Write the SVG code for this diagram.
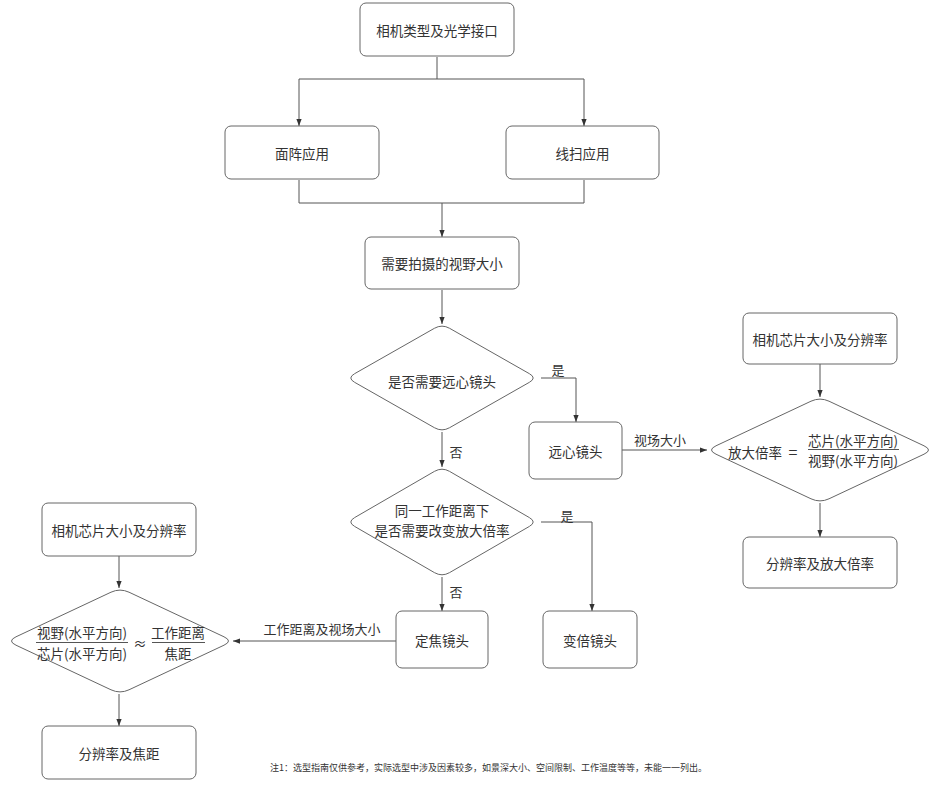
<svg xmlns="http://www.w3.org/2000/svg" width="938" height="788" viewBox="0 0 938 788">
<defs>
<style>
.box{fill:#fff;stroke:#666;stroke-width:1}
.dia{fill:#fff;stroke:#666;stroke-width:1}
.t{font-family:"Noto Sans CJK SC","Noto Sans",sans-serif;font-size:13.5px;fill:#333;text-anchor:middle;dominant-baseline:central}
.lbl{font-family:"Noto Sans CJK SC","Noto Sans",sans-serif;font-size:13px;fill:#333;text-anchor:middle;dominant-baseline:central}
.note{font-family:"Noto Sans CJK SC","Noto Sans",sans-serif;font-size:9px;fill:#333;dominant-baseline:central}
.c{fill:none;stroke:#555;stroke-width:1}
.fl{stroke:#555;stroke-width:1}
</style>
<marker id="arr" viewBox="0 0 8 8" refX="8" refY="4" markerWidth="7" markerHeight="7" markerUnits="userSpaceOnUse" orient="auto">
<path d="M0,1 L8,4 L0,7 Z" fill="#333"/>
</marker>
</defs>
<rect width="938" height="788" fill="#fff"/>

<g id="connectors">
<path class="c" d="M437,57 V79"/>
<path class="c" d="M299,79 H584"/>
<path class="c" d="M299,79 V126" marker-end="url(#arr)"/>
<path class="c" d="M584,79 V126" marker-end="url(#arr)"/>
<path class="c" d="M299,180 V203 H584 V180"/>
<path class="c" d="M442,203 V237" marker-end="url(#arr)"/>
<path class="c" d="M442,290 V324" marker-end="url(#arr)"/>
<path class="c" d="M541,378 H576 V422" marker-end="url(#arr)"/>
<path class="c" d="M442,432 V467" marker-end="url(#arr)"/>
<path class="c" d="M622,450 H707" marker-end="url(#arr)"/>
<path class="c" d="M541,522 H592 V611" marker-end="url(#arr)"/>
<path class="c" d="M442,577 V611" marker-end="url(#arr)"/>
<path class="c" d="M396,641 H233" marker-end="url(#arr)"/>
<path class="c" d="M820,364 V397" marker-end="url(#arr)"/>
<path class="c" d="M820,503 V537" marker-end="url(#arr)"/>
<path class="c" d="M119,556 V588" marker-end="url(#arr)"/>
<path class="c" d="M119,694 V726" marker-end="url(#arr)"/>
<text class="lbl" x="558" y="369">是</text>
<text class="lbl" x="456" y="451">否</text>
<text class="lbl" x="660" y="439">视场大小</text>
<text class="lbl" x="567" y="515">是</text>
<text class="lbl" x="456" y="591">否</text>
<text class="lbl" x="322" y="628">工作距离及视场大小</text>
</g>

<g id="n1"><rect class="box" x="360" y="3" width="154" height="53" rx="6"/><text class="t" x="437" y="29.5">相机类型及光学接口</text></g>
<g id="n2"><rect class="box" x="225" y="126" width="154" height="53" rx="6"/><text class="t" x="302" y="153">面阵应用</text></g>
<g id="n3"><rect class="box" x="506" y="126" width="153" height="53" rx="6"/><text class="t" x="582.5" y="153">线扫应用</text></g>
<g id="n4"><rect class="box" x="365" y="237" width="154" height="52" rx="6"/><text class="t" x="442" y="263">需要拍摄的视野大小</text></g>
<g id="d1"><path class="dia" d="M449.6,328.3 L529.4,373.7 Q537,378 529.4,382.3 L449.6,427.7 Q442,432 434.4,427.7 L354.6,382.3 Q347,378 354.6,373.7 L434.4,328.3 Q442,324 449.6,328.3 Z"/><text class="t" x="442" y="381">是否需要远心镜头</text></g>
<g id="n5"><rect class="box" x="529" y="422" width="93" height="57" rx="6"/><text class="t" x="575.5" y="450.5">远心镜头</text></g>
<g id="d2"><path class="dia" d="M449.6,471.4 L529.4,517.6 Q537,522 529.4,526.4 L449.6,572.6 Q442,577 434.4,572.6 L354.6,526.4 Q347,522 354.6,517.6 L434.4,471.4 Q442,467 449.6,471.4 Z"/><text class="t" x="442" y="510">同一工作距离下</text><text class="t" x="442" y="530">是否需要改变放大倍率</text></g>
<g id="n6"><rect class="box" x="396" y="611" width="92" height="57" rx="6"/><text class="t" x="442" y="640">定焦镜头</text></g>
<g id="n7"><rect class="box" x="543" y="611" width="94" height="57" rx="6"/><text class="t" x="590" y="640">变倍镜头</text></g>
<g id="n8"><rect class="box" x="743" y="313" width="154" height="51" rx="6"/><text class="t" x="820" y="338.5">相机芯片大小及分辨率</text></g>
<g id="d3"><path class="dia" d="M829,401.2 L924,445.8 Q933,450 924,454.2 L829,498.8 Q820,503 811,498.8 L716,454.2 Q707,450 716,445.8 L811,401.2 Q820,397 829,401.2 Z"/>
<text class="t" x="755" y="452">放大倍率</text>
<text class="t" x="793" y="451" style="font-size:16px">=</text>
<text class="t" x="853" y="440">芯片(水平方向)</text>
<line class="fl" x1="808" y1="449.5" x2="899" y2="449.5"/>
<text class="t" x="853" y="460">视野(水平方向)</text></g>
<g id="n9"><rect class="box" x="743" y="537" width="154" height="51" rx="6"/><text class="t" x="820" y="562.5">分辨率及放大倍率</text></g>
<g id="n10"><rect class="box" x="42" y="503" width="154" height="53" rx="6"/><text class="t" x="119" y="529.5">相机芯片大小及分辨率</text></g>
<g id="d4"><path class="dia" d="M129,592.2 L224,636.8 Q233,641 224,645.2 L129,689.8 Q120,694 111,689.8 L16,645.2 Q7,641 16,636.8 L111,592.2 Q120,588 129,592.2 Z"/>
<text class="t" x="82" y="632">视野(水平方向)</text>
<line class="fl" x1="36" y1="642.5" x2="128" y2="642.5"/>
<text class="t" x="82" y="653">芯片(水平方向)</text>
<text class="t" x="140" y="643">≈</text>
<text class="t" x="178" y="632">工作距离</text>
<line class="fl" x1="152" y1="642.5" x2="205" y2="642.5"/>
<text class="t" x="178" y="653">焦距</text></g>
<g id="n11"><rect class="box" x="42" y="726" width="154" height="53" rx="6"/><text class="t" x="119" y="752.5">分辨率及焦距</text></g>
<text class="note" x="270" y="767">注1：选型指南仅供参考，实际选型中涉及因素较多，如景深大小、空间限制、工作温度等等，未能一一列出。</text>
</svg>
